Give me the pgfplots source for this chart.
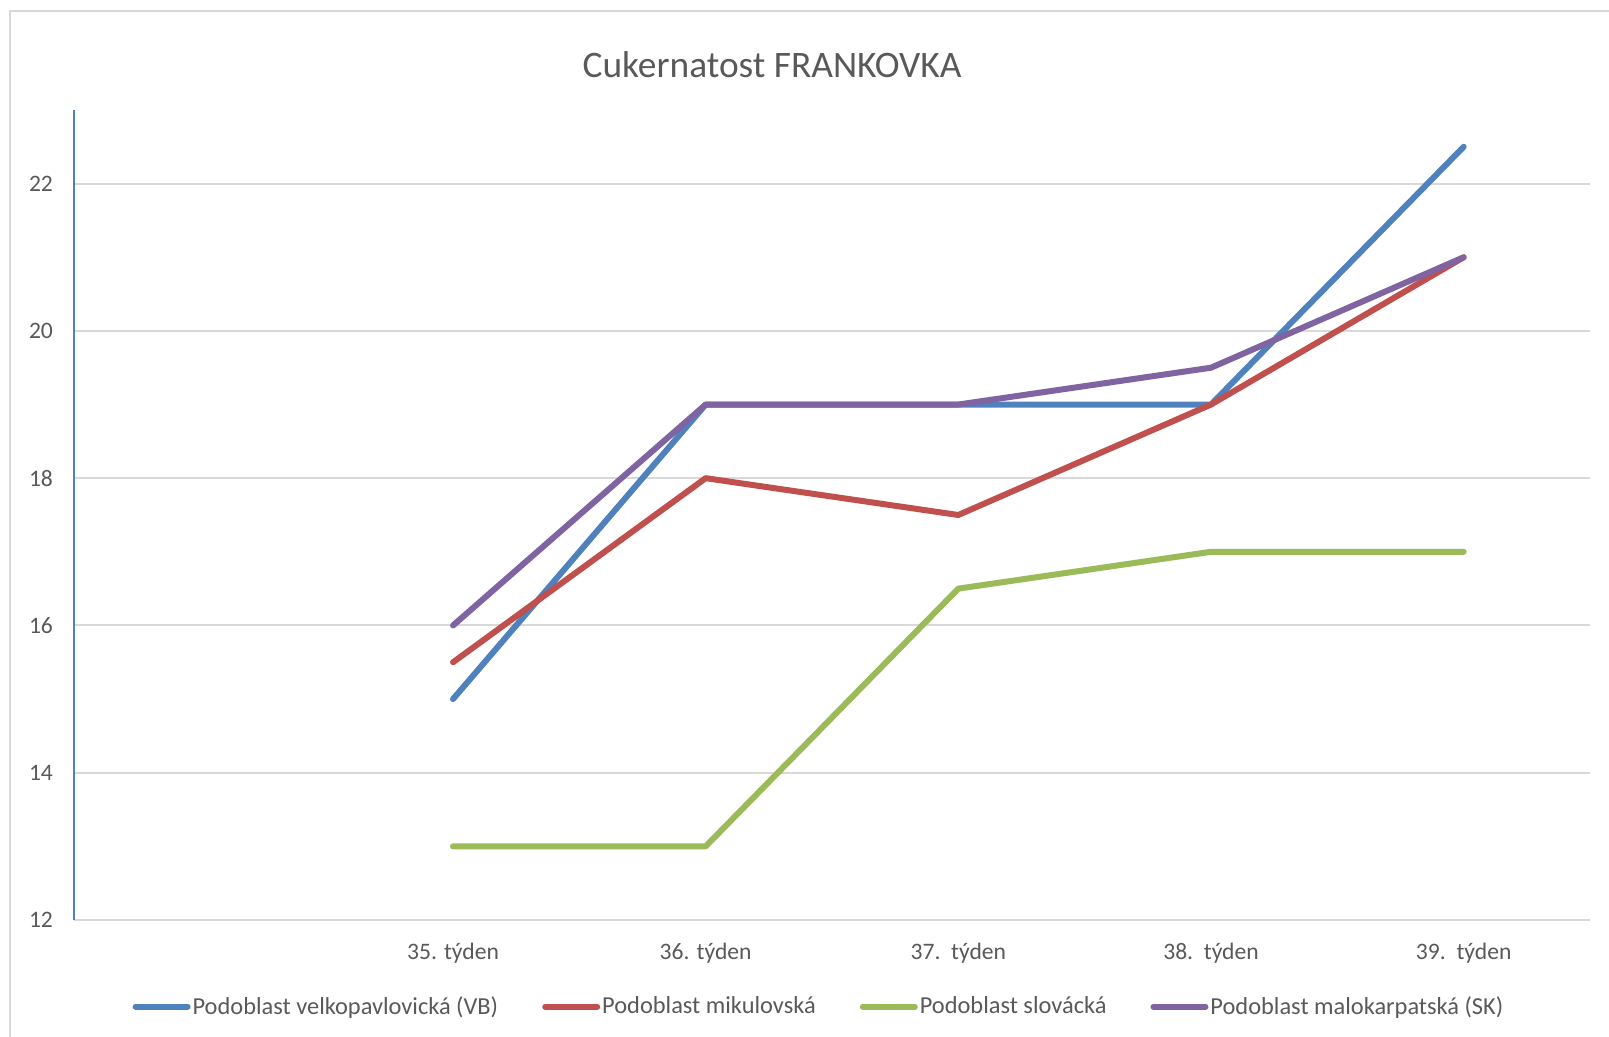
\documentclass[border=0pt]{standalone}
\usepackage{pgfplots}
\pgfplotsset{compat=1.18}
\usepackage{fontspec}
\setmainfont{Carlito}
\definecolor{sblue}{HTML}{4F81BD}
\definecolor{sred}{HTML}{C0504D}
\definecolor{sgreen}{HTML}{9BBB59}
\definecolor{spurple}{HTML}{8064A2}
\definecolor{txt}{HTML}{595959}
\definecolor{gridc}{HTML}{D9D9D9}
\begin{document}
\begin{tikzpicture}
\path[use as bounding box] (0,0) rectangle (804.5pt,518.5pt);
\draw[gridc, line width=1pt] (5pt,0) -- (5pt,513pt) -- (804.5pt,513pt);
\node[text=txt, font=\fontsize{18.7}{21}\selectfont] at (386pt,486pt) {Cukernatost FRANKOVKA};
\begin{axis}[
  at={(37pt,58.5pt)}, anchor=south west,
  width=758pt, height=405pt, scale only axis,
  xmin=-0.5, xmax=5.5, ymin=12, ymax=23,
  xtick={1,2,3,4,5},
  xticklabels={35. týden, 36. týden, 37.~~týden, 38.~~týden, 39.~~týden},
  ytick={12,14,...,22},
  axis x line*=bottom, axis y line*=left,
  x axis line style={draw=none},
  y axis line style={draw=sblue, line width=0.7pt, -},
  major tick length=0pt,
  ymajorgrids, grid style={gridc, line width=1pt},
  /pgf/number format/assume math mode=true,
  tick label style={font=\fontsize{11.8}{13}\selectfont, text=txt},
  yticklabel style={xshift=-7pt},
  xticklabel style={yshift=-8pt},
  every axis plot/.append style={line width=3pt, line cap=round, line join=round, mark=none},
  legend columns=4,
  legend style={draw=none, fill=none, at={(0.4914,-0.107)}, anchor=center,
    font=\fontsize{12.2}{14}\selectfont, text=txt,
    nodes={inner sep=1pt},
    /tikz/every even column/.append style={column sep=21pt}},
  legend image code/.code={\draw[line width=3pt, line cap=round] (0pt,0pt) -- (26pt,0pt);},
]
\addplot[sblue] coordinates {(1,15) (2,19) (3,19) (4,19) (5,22.5)};
\addlegendentry{Podoblast velkopavlovická (VB)}
\addplot[sred] coordinates {(1,15.5) (2,18) (3,17.5) (4,19) (5,21)};
\addlegendentry{Podoblast mikulovská}
\addplot[sgreen] coordinates {(1,13) (2,13) (3,16.5) (4,17) (5,17)};
\addlegendentry{Podoblast slovácká}
\addplot[spurple] coordinates {(1,16) (2,19) (3,19) (4,19.5) (5,21)};
\addlegendentry{Podoblast malokarpatská (SK)}
\end{axis}
\end{tikzpicture}
\end{document}
